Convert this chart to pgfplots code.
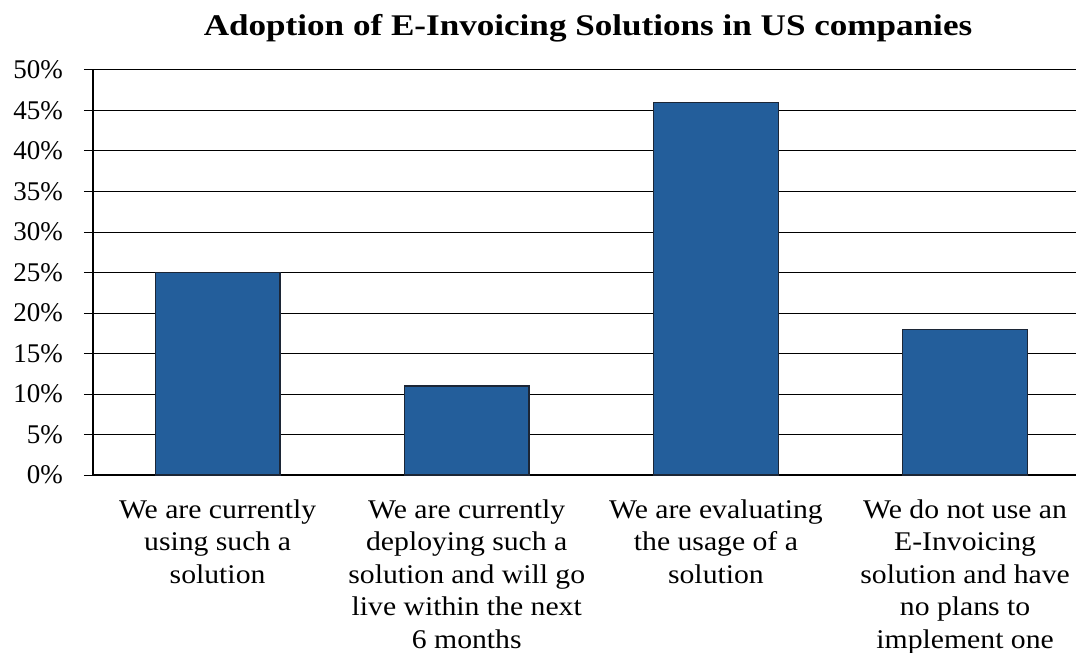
\documentclass[border=0pt]{standalone}
\usepackage{fontspec}
\setmainfont{Liberation Serif}
\newfontfamily\titlefont[FakeStretch=1.17]{Liberation Serif}
\newfontfamily\catfont[FakeStretch=1.1]{Liberation Serif}
\usepackage{pgfplots}
\pgfplotsset{compat=1.18}
\definecolor{barblue}{RGB}{35,94,155}
\definecolor{baredge}{RGB}{28,38,54}
\begin{document}
\begin{tikzpicture}
\useasboundingbox (-93pt,-178pt) rectangle (983pt,475pt);
\begin{axis}[
    scale only axis,
    width=983pt, height=405pt,
    xmin=-0.5, xmax=3.445,
    ymin=0, ymax=50,
    axis x line=bottom, axis y line=left,
    axis line style={-, line width=1.2pt, black},
    xtick={0,1,2,3},
    xticklabels={
      {We are currently\\using such a\\solution},
      {We are currently\\deploying such a\\solution and will go\\live within the next\\6 months},
      {We are evaluating\\the usage of a\\solution},
      {We do not use an\\E-Invoicing\\solution and have\\no plans to\\implement one}},
    xticklabel style={align=center, font=\catfont\fontsize{27}{32.5}\selectfont, anchor=north, yshift=-12pt},
    x tick style={draw=none},
    ytick={0,5,...,50},
    yticklabels={0\%,5\%,10\%,15\%,20\%,25\%,30\%,35\%,40\%,45\%,50\%},
    yticklabel style={font=\fontsize{27}{32}\selectfont, anchor=east, inner sep=0pt, xshift=-21pt},
    y tick style={line width=1pt, black},
    tick align=outside, major tick length=9pt,
    ymajorgrids, grid style={line width=1pt, black},
    title={Adoption of E-Invoicing Solutions in US companies},
    title style={font=\titlefont\bfseries\fontsize{30}{34}\selectfont, at={(0.5036,1)}, anchor=base, yshift=28pt},
]
\addplot[ybar, bar width=0.5, fill=barblue, draw=baredge, line width=1.3pt]
    coordinates {(0,25) (1,11) (2,46) (3,18)};
\end{axis}
\end{tikzpicture}
\end{document}
